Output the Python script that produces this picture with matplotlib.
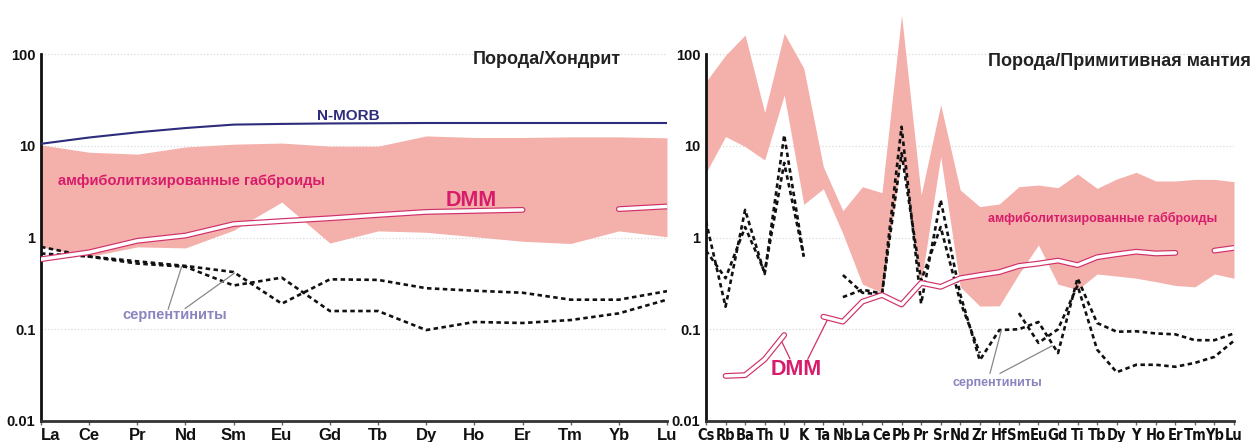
import numpy as np
import matplotlib
matplotlib.use('Agg')
import matplotlib.pyplot as plt
from matplotlib.ticker import NullLocator
from matplotlib import font_manager as fm

nan = np.nan

# ---------------- data: chondrite-normalised REE (left) ----------------
ree = ['La', 'Ce', 'Pr', 'Nd', 'Sm', 'Eu', 'Gd', 'Tb', 'Dy', 'Ho', 'Er', 'Tm', 'Yb', 'Lu']
nmorb_c = [10.5, 12.3, 14.0, 15.6, 17.0, 17.3, 17.5, 17.6, 17.7, 17.7, 17.7, 17.7, 17.7, 17.7]
gab_hi_c = [10.2, 8.5, 8.1, 9.7, 10.4, 10.7, 9.9, 9.9, 12.8, 12.3, 12.3, 12.5, 12.5, 12.2]
gab_lo_c = [0.79, 0.62, 0.79, 0.77, 1.2, 2.43, 0.87, 1.18, 1.14, 1.02, 0.91, 0.86, 1.18, 1.02]
dmm_c = [0.58, 0.69, 0.92, 1.05, 1.40, 1.51, 1.62, 1.76, 1.90, 1.95, 2.0, nan, 2.04, 2.18]
serp1_c = [0.79, 0.62, 0.55, 0.49, 0.42, 0.19, 0.35, 0.345, 0.28, 0.263, 0.25, 0.21, 0.21, 0.26]
serp2_c = [0.67, 0.62, 0.52, 0.48, 0.30, 0.365, 0.158, 0.158, 0.098, 0.12, 0.117, 0.126, 0.149, 0.21]

# ---------------- data: primitive-mantle-normalised (right) ----------------
spider = ['Cs', 'Rb', 'Ba', 'Th', 'U', 'K', 'Ta', 'Nb', 'La', 'Ce', 'Pb', 'Pr', 'Sr', 'Nd',
          'Zr', 'Hf', 'Sm', 'Eu', 'Gd', 'Ti', 'Tb', 'Dy', 'Y', 'Ho', 'Er', 'Tm', 'Yb', 'Lu']
gab_hi_p = [50, 97, 161, 23, 168, 70, 5.9, 1.96, 3.58, 3.08, 266, 2.9, 28, 3.3, 2.17, 2.32,
            3.58, 3.73, 3.49, 4.92, 3.43, 4.34, 5.13, 4.13, 4.13, 4.3, 4.3, 4.06]
gab_lo_p = [5.1, 12.6, 9.8, 7.0, 35.7, 2.3, 3.4, 1.1, 0.31, 0.25, 7.6, 0.32, 7.6, 0.29, 0.179, 0.18,
            0.40, 0.83, 0.31, 0.27, 0.40, 0.38, 0.36, 0.33, 0.30, 0.29, 0.40, 0.36]
dmm_p = [nan, 0.031, 0.0316, 0.047, 0.0865, nan, 0.137, 0.121, 0.20, 0.236, 0.186, 0.32, 0.29, 0.36,
         0.39, 0.42, 0.49, 0.52, 0.56, 0.50, 0.61, 0.656, 0.70, 0.67, 0.68, nan, 0.72, 0.77]
serp1_p = [1.5, 0.176, 2.0, 0.40, 13.1, 0.62, nan, 0.39, 0.25, 0.24, 16.1, 0.19, 2.56, 0.24,
           0.046, 0.098, 0.10, 0.12, 0.055, 0.36, 0.117, 0.094, 0.095, 0.09, 0.088, 0.076, 0.076, 0.09]
serp2_p = [0.72, 0.36, 1.3, 0.42, 6.5, 0.62, nan, 0.224, 0.27, 0.245, 8.3, 0.34, 1.3, 0.20,
           0.055, nan, 0.15, 0.071, 0.10, 0.30, 0.06, 0.034, 0.041, 0.041, 0.039, 0.043, 0.05, 0.075]

ytick_vals = [0.01, 0.1, 1, 10, 100]
ytick_text = ['0.01', '0.1', '1', '10', '100']

# ---------------- styling ----------------
plt.rcParams['font.family'] = ['Liberation Sans', 'DejaVu Sans']
fonts = fm.fontManager.ttflist
has_narrow = any(f.name == 'Liberation Sans Narrow' for f in fonts)
has_dv_cond = any(f.name == 'DejaVu Sans' and f.stretch == 'condensed' for f in fonts)

FILL = '#f4b0ab'
DMM_C = '#d0306a'
LABEL_PINK = '#d81b6a'
SERP_TXT = '#8a84c0'
NAVY = '#2e2c7c'

W, H = 1253, 442
YTOP = 10 ** 2.55
ytop_px = 421 - 4.55 * 91.75


def rect(x0, x1, ybot, ytop):
    return [x0 / W, (H - ybot) / H, (x1 - x0) / W, (ybot - ytop) / H]


fig = plt.figure(figsize=(W / 100, H / 100), dpi=100)
axL = fig.add_axes(rect(41, 667, 421, ytop_px))
axR = fig.add_axes(rect(706, 1234, 421, ytop_px))


def style(ax, cats, fs, fam, stretch='normal'):
    ax.set_yscale('log')
    ax.set_ylim(0.01, YTOP)
    ax.set_xlim(0, len(cats) - 1)
    ax.set_xticks(range(len(cats)))
    ax.set_xticklabels(cats, fontsize=fs, fontweight='bold', family=fam, color='#111',
                       fontstretch=stretch)
    ax.set_yticks(ytick_vals)
    ax.set_yticklabels(ytick_text, fontsize=10.5, fontweight='bold', color='#111')
    ax.yaxis.set_minor_locator(NullLocator())
    ax.tick_params(axis='y', length=0, pad=4)
    ax.tick_params(axis='x', length=3, width=1, color='#666', direction='out', pad=2)
    for s in ['top', 'right']:
        ax.spines[s].set_visible(False)
    ax.spines['left'].set_bounds(0.01, 100)
    ax.spines['left'].set_linewidth(2)
    ax.spines['left'].set_color('#111')
    ax.spines['bottom'].set_linewidth(2)
    ax.spines['bottom'].set_color('#333')
    ax.grid(axis='y', color='#dadada', linestyle=':', linewidth=0.9)
    ax.set_axisbelow(True)
    ax.patch.set_alpha(0)


def draw(ax, cats, lo, hi, dmm, s1, s2):
    x = np.arange(len(cats))
    ax.fill_between(x, lo, hi, color=FILL, lw=0, zorder=1)
    for s in (s1, s2):
        ax.plot(x, s, color='#111', lw=1.9, ls=(0, (1.7, 1.3)), zorder=3)
    ax.plot(x, dmm, color=DMM_C, lw=4.2, solid_capstyle='round', solid_joinstyle='round', zorder=5)
    ax.plot(x, dmm, color='white', lw=2.5, solid_capstyle='round', solid_joinstyle='round', zorder=6)


# ---------- left panel ----------
style(axL, ree, 12, ['Liberation Sans', 'DejaVu Sans'])
xl = axL.get_xticklabels()
xl[0].set_horizontalalignment('left')
draw(axL, ree, gab_lo_c, gab_hi_c, dmm_c, serp1_c, serp2_c)
axL.plot(np.arange(len(ree)), nmorb_c, color=NAVY, lw=1.5, zorder=4)

axL.text(6.38, 21.0, 'N-MORB', color=NAVY, fontsize=11, fontweight='bold', ha='center', va='center')
axL.text(0.35, 4.1, 'амфиболитизированные габброиды', color=LABEL_PINK, fontsize=10.5,
         fontweight='bold', ha='left', va='center')
axL.text(8.93, 2.5, 'DMM', color=LABEL_PINK, fontsize=15.5, fontweight='bold', ha='center', va='center')
axL.text(2.78, 0.142, 'серпентиниты', color=SERP_TXT, fontsize=10.5, fontweight='bold',
         ha='center', va='center')
for start, end in [((2.64, 0.165), (2.92, 0.48)), ((2.99, 0.168), (4.02, 0.41))]:
    axL.annotate('', xy=end, xytext=start,
                 arrowprops=dict(arrowstyle='-', color='#888', lw=0.9, shrinkA=0, shrinkB=0))

# ---------- right panel ----------
if has_narrow:
    style(axR, spider, 12, ['Liberation Sans Narrow', 'Liberation Sans'])
elif has_dv_cond:
    style(axR, spider, 10.5, ['DejaVu Sans'], stretch='condensed')
else:
    style(axR, spider, 9.8, ['Liberation Sans', 'DejaVu Sans'])
draw(axR, spider, gab_lo_p, gab_hi_p, dmm_p, serp1_p, serp2_p)

axR.text(14.42, 1.63, 'амфиболитизированные габброиды', color=LABEL_PINK, fontsize=9,
         fontweight='bold', ha='left', va='center')
axR.text(4.6, 0.036, 'DMM', color=LABEL_PINK, fontsize=15.5, fontweight='bold', ha='center', va='center')
for start, end in [((4.3, 0.0474), (3.85, 0.075)), ((5.2, 0.047), (6.25, 0.132))]:
    axR.annotate('', xy=end, xytext=start,
                 arrowprops=dict(arrowstyle='-', color=DMM_C, lw=0.9, shrinkA=0, shrinkB=0))
axR.text(14.88, 0.026, 'серпентиниты', color=SERP_TXT, fontsize=9, fontweight='bold',
         ha='center', va='center')
for start, end in [((14.52, 0.033), (15.1, 0.097)), ((15.03, 0.033), (17.7, 0.066))]:
    axR.annotate('', xy=end, xytext=start,
                 arrowprops=dict(arrowstyle='-', color='#888', lw=0.9, shrinkA=0, shrinkB=0))

# ---------- titles ----------
fig.text(473 / W, (H - 60) / H, 'Порода/Хондрит', fontsize=13, fontweight='bold',
         color='#222', ha='left', va='center')
fig.text(988 / W, (H - 62) / H, 'Порода/Примитивная мантия', fontsize=13, fontweight='bold',
         color='#222', ha='left', va='center')

fig.savefig('out.png', dpi=100, facecolor='white')
